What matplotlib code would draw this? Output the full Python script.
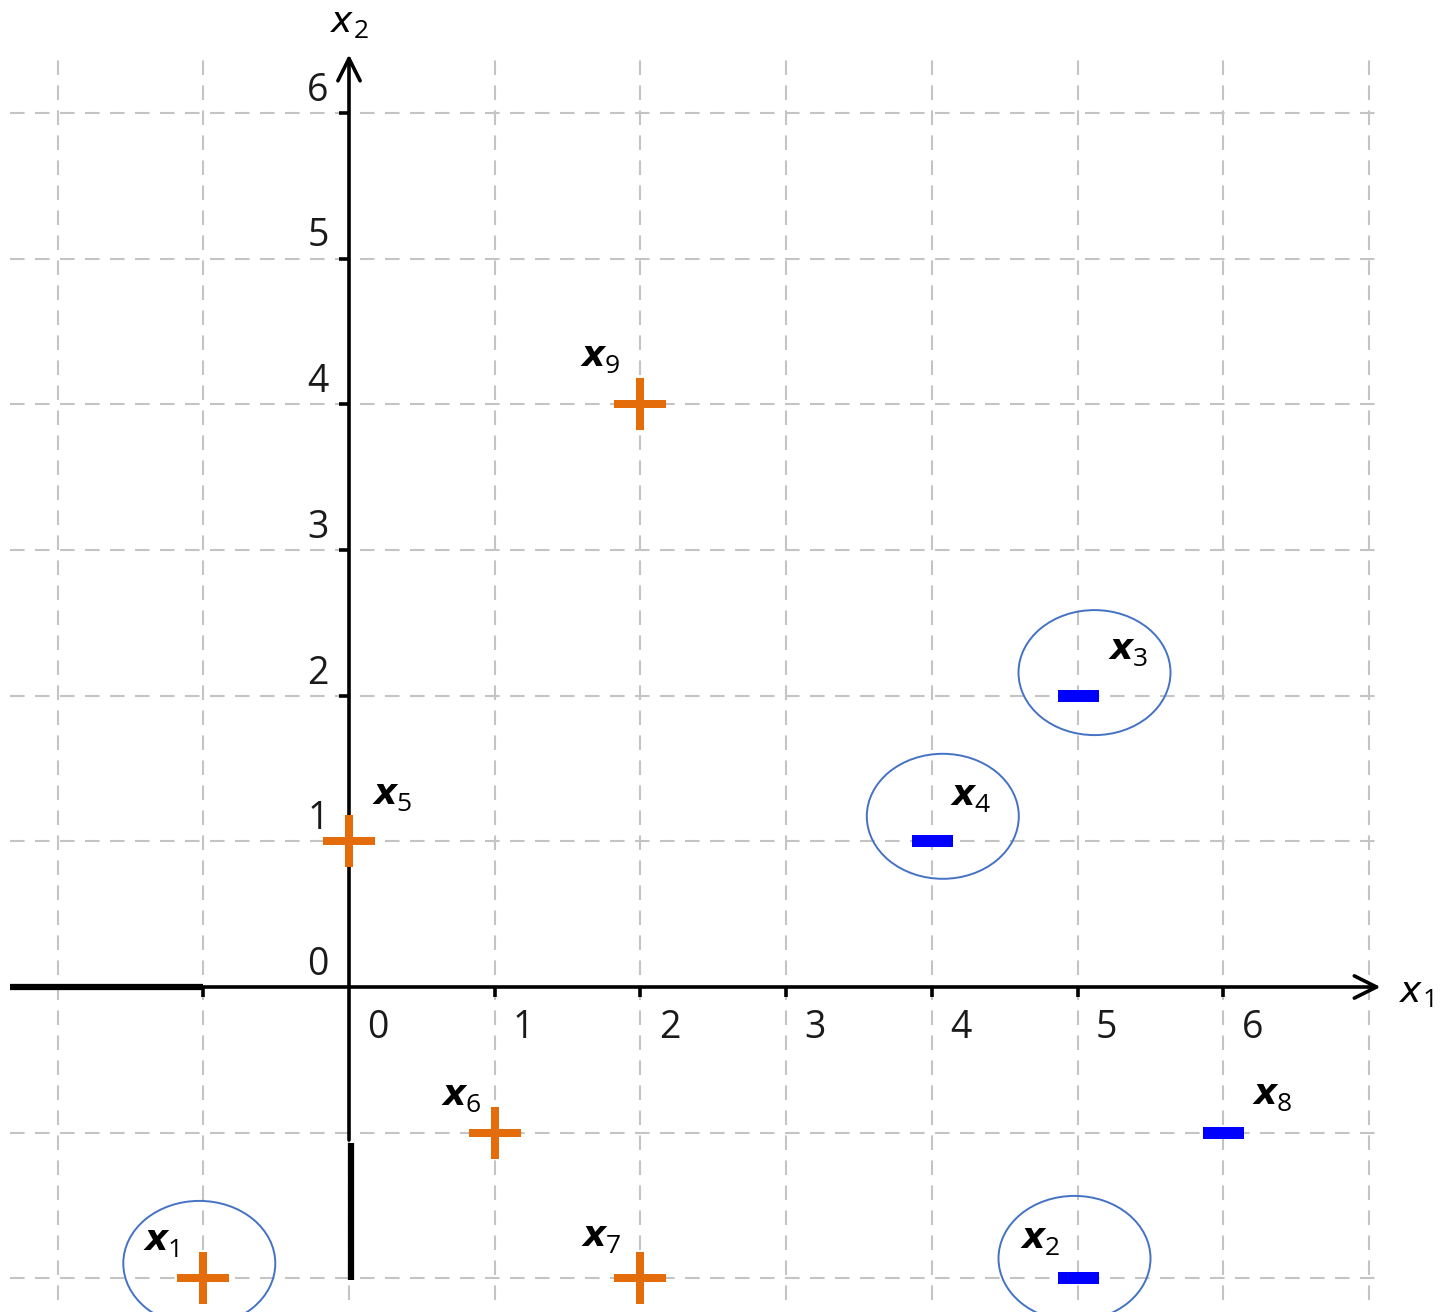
import numpy as np
import matplotlib
matplotlib.use("Agg")
import matplotlib.pyplot as plt
from matplotlib.patches import Ellipse

# training points
names = ["1", "2", "3", "4", "5", "6", "7", "8", "9"]
px = [-1, 5, 5, 4, 0, 1, 2, 6, 2]
py = [-2, -2, 2, 1, 1, -1, -2, -1, 4]
labels = ["+", "-", "-", "-", "+", "+", "+", "-", "+"]
circled = ["1", "2", "3", "4"]

grid_x = [-2, -1, 0, 1, 2, 3, 4, 5, 6, 7]
grid_y = [-2, -1, 0, 1, 2, 3, 4, 5, 6]
xticks = [0, 1, 2, 3, 4, 5, 6]
yticks = [0, 1, 2, 3, 4, 5, 6]

UNIT = 145.7  # pixels per data unit
PX = 0.72     # points per pixel at dpi 100

# label offsets (pixels) of the bold x relative to each marker
lab_off = {"1": (-59, 28), "2": (-56, 30), "3": (32, 37), "4": (20, 36),
           "5": (24, 37), "6": (-52, 28), "7": (-58, 32), "8": (30, 29),
           "9": (-59, 38)}
# ellipse centre offsets (pixels)
ell_off = {"1": (-4, 15), "2": (-3, 20), "3": (17, 23), "4": (11, 25)}

fig = plt.figure(figsize=(14.42, 13.12), dpi=100)
ax = fig.add_axes([0, 0, 1, 1])
ax.set_xlim(-349 / UNIT, (1442 - 349) / UNIT)
ax.set_ylim(-(1312 - 987) / UNIT, 987 / UNIT)
ax.axis("off")

gcol = "#c4c4c4"
for g in grid_x:
    ax.plot([g, g], [-2.15, 6.43], color=gcol, lw=1.5, dashes=(7, 5), zorder=1)
for g in grid_y:
    ax.plot([-2.33, 7.08], [g, g], color=gcol, lw=1.5, dashes=(7, 5), zorder=1)

# axes
x_tip, y_tip = 7.08, 6.4
ax.plot([-2.33, -1], [0, 0], color="black", lw=4.5, solid_capstyle="butt", zorder=3)
ax.annotate("", xy=(x_tip, 0), xytext=(-1, 0),
            arrowprops=dict(arrowstyle="->", lw=2.6, color="black",
                            mutation_scale=40, shrinkA=0, shrinkB=0), zorder=3)
ax.annotate("", xy=(0, y_tip), xytext=(0, -1.05),
            arrowprops=dict(arrowstyle="->", lw=2.6, color="black",
                            mutation_scale=40, shrinkA=0, shrinkB=0), zorder=3)
ax.plot([0.012, 0.012], [-1.07, -2.01], color="black", lw=4.5,
        solid_capstyle="butt", zorder=3)

# tick marks
for t in [-1] + xticks[1:]:
    ax.plot([t, t], [0, -0.07], color="black", lw=2.6, solid_capstyle="butt", zorder=3)
for t in yticks[1:]:
    ax.plot([0, -0.07], [t, t], color="black", lw=2.6, solid_capstyle="butt", zorder=3)

tfont = dict(family=["Open Sans", "DejaVu Sans"], fontsize=27, color="#1a1a1a")
for t in xticks:
    ax.annotate(str(t), (t, 0), xytext=(29 * PX, -41 * PX), textcoords="offset points",
                ha="center", va="center", **tfont)
for t in yticks:
    ax.annotate(str(t), (0, t), xytext=(-31 * PX, 22 * PX), textcoords="offset points",
                ha="center", va="center", **tfont)

# axis names
afont = dict(family="DejaVu Sans", style="italic", fontsize=26, color="black")
sfont = dict(family=["Open Sans", "DejaVu Sans"], fontsize=19, color="black")
ax.annotate("x", (0, y_tip), xytext=(-18 * PX, 23 * PX), textcoords="offset points",
            ha="left", va="baseline", **afont)
ax.annotate("2", (0, y_tip), xytext=(5 * PX, 17 * PX), textcoords="offset points",
            ha="left", va="baseline", **sfont)
ax.annotate("x", (x_tip, 0), xytext=(19 * PX, -15 * PX), textcoords="offset points",
            ha="left", va="baseline", **afont)
ax.annotate("1", (x_tip, 0), xytext=(42 * PX, -20 * PX), textcoords="offset points",
            ha="left", va="baseline", **sfont)

# points
for n, x, y, c in zip(names, px, py, labels):
    if c == "+":
        ax.plot(x, y, marker="+", ms=53 * PX, mew=8 * PX, color="#E46C0A",
                linestyle="none", zorder=5)
    else:
        ax.plot(x, y, marker="_", ms=41 * PX, mew=12 * PX, color="#0000FF",
                linestyle="none", zorder=5)
    dx, dy = lab_off[n]
    ax.annotate("x", (x, y), xytext=(dx * PX, dy * PX), textcoords="offset points",
                ha="left", va="baseline", family="DejaVu Sans", style="italic",
                fontweight="bold", fontsize=26, color="black", zorder=6)
    ax.annotate(n, (x, y), xytext=((dx + 23) * PX, (dy - 7) * PX),
                textcoords="offset points", ha="left", va="baseline",
                zorder=6, **sfont)
    if n in circled:
        ox, oy = ell_off[n]
        ax.add_patch(Ellipse((x + ox / UNIT, y + oy / UNIT), 152 / UNIT, 125 / UNIT,
                             fill=False, edgecolor="#4472C4", lw=1.4, zorder=4))

fig.savefig("out.png", dpi=100)
